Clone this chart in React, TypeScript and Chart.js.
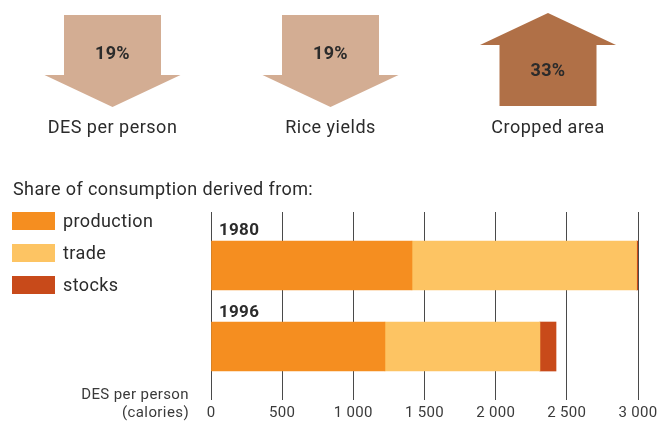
import React, { useEffect, useRef } from 'react';
import { Chart, registerables } from 'chart.js';

Chart.register(...registerables);

// ---- data ----
const years = ['1980', '1996'];
const production = [1412, 1222];
const trade = [1578, 1089];
const stocks = [10, 113];
const seriesNames = ['production', 'trade', 'stocks'];
const seriesColors = ['#f58e20', '#fdc463', '#c84a1a'];
const xTicks = [0, 500, 1000, 1500, 2000, 2500, 3000];
const changeLabels = ['DES per person', 'Rice yields', 'Cropped area'];
const changeValues = [-19, -19, 33];
const legendTitle = 'Share of consumption derived from:';
const axisTitle = ['DES per person', '(calories)'];

// ---- style ----
const FONT = 'Roboto, "Noto Sans", sans-serif';
const TEXT = '#2b2b2b';
const DOWN_COLOR = '#d3ad93';
const UP_COLOR = '#b07047';
const ARROW_CENTERS = [112.5, 330.5, 548];

const fmt = (v: number) => {
  const s = String(Math.round(v));
  return s.replace(/\B(?=(\d{3})+(?!\d))/g, ' ');
};

const spacingPlugin = {
  id: 'spacing',
  beforeDraw(chart: any) {
    (chart.ctx as any).letterSpacing = '0.3px';
  },
};

const decorPlugin = {
  id: 'decor',
  afterDatasetsDraw(chart: any) {
    const ctx = chart.ctx as any;
    ctx.save();
    // change arrows
    changeValues.forEach((v, i) => {
      const cx = ARROW_CENTERS[i];
      const sh = 48.5;
      const hh = 68;
      ctx.beginPath();
      if (v < 0) {
        ctx.moveTo(cx - sh, 15);
        ctx.lineTo(cx + sh, 15);
        ctx.lineTo(cx + sh, 75);
        ctx.lineTo(cx + hh, 75);
        ctx.lineTo(cx, 107);
        ctx.lineTo(cx - hh, 75);
        ctx.lineTo(cx - sh, 75);
        ctx.fillStyle = DOWN_COLOR;
      } else {
        ctx.moveTo(cx, 13);
        ctx.lineTo(cx + hh, 45);
        ctx.lineTo(cx + sh, 45);
        ctx.lineTo(cx + sh, 106);
        ctx.lineTo(cx - sh, 106);
        ctx.lineTo(cx - sh, 45);
        ctx.lineTo(cx - hh, 45);
        ctx.fillStyle = UP_COLOR;
      }
      ctx.closePath();
      ctx.fill();
      ctx.fillStyle = TEXT;
      ctx.textAlign = 'center';
      ctx.textBaseline = 'alphabetic';
      ctx.letterSpacing = '0.4px';
      ctx.font = `bold 18px ${FONT}`;
      ctx.fillText(`${Math.abs(v)}%`, cx, v < 0 ? 58.5 : 76);
      ctx.letterSpacing = '0.5px';
      ctx.font = `18px ${FONT}`;
      ctx.fillText(changeLabels[i], cx, 132.5);
    });

    // legend
    ctx.textAlign = 'left';
    ctx.textBaseline = 'alphabetic';
    ctx.letterSpacing = '0.4px';
    ctx.font = `18px ${FONT}`;
    ctx.fillStyle = TEXT;
    ctx.fillText(legendTitle, 13, 195);
    seriesNames.forEach((name, i) => {
      ctx.fillStyle = seriesColors[i];
      ctx.fillRect(12, 212 + 32 * i, 43, 18);
      ctx.fillStyle = TEXT;
      ctx.fillText(name, 63, 226.5 + 32 * i);
    });

    // year labels above bars
    const meta = chart.getDatasetMeta(0);
    ctx.font = `bold 17px ${FONT}`;
    ctx.letterSpacing = '0.3px';
    ctx.fillStyle = TEXT;
    meta.data.forEach((el: any, i: number) => {
      const top = el.y - el.height / 2;
      ctx.fillText(years[i], chart.chartArea.left + 8, top - 5.5);
    });

    // axis title
    ctx.textAlign = 'right';
    ctx.font = `15px ${FONT}`;
    ctx.letterSpacing = '0.4px';
    ctx.fillStyle = '#3a3a3a';
    ctx.fillText(axisTitle[0], 189, 398.5);
    ctx.fillText(axisTitle[1], 189, 416.5);
    ctx.restore();
  },
};

export default function App() {
  const ref = useRef<HTMLCanvasElement>(null);
  useEffect(() => {
    if (!ref.current) return;
    const series = [production, trade, stocks];
    const chart = new Chart(ref.current, {
      type: 'bar',
      data: {
        datasets: series.map((vals, s) => ({
          label: seriesNames[s],
          data: vals.map((v, i) => ({ x: v, y: i + 1 })),
          backgroundColor: seriesColors[s],
          borderWidth: 0,
          barThickness: 49,
        })),
      },
      options: {
        indexAxis: 'y',
        responsive: false,
        animation: false,
        devicePixelRatio: 1,
        layout: { padding: { left: 211, right: 20, top: 212, bottom: 3.6 } },
        plugins: { legend: { display: false }, tooltip: { enabled: false } },
        scales: {
          x: {
            type: 'linear',
            stacked: true,
            min: xTicks[0],
            max: xTicks[xTicks.length - 1],
            afterBuildTicks: (scale: any) => {
              scale.ticks = xTicks.map((v) => ({ value: v }));
            },
            afterFit: (scale: any) => {
              scale.height = 21.4;
              scale.paddingLeft = 0;
              scale.paddingRight = 0;
            },
            grid: { color: '#4a4a4a', lineWidth: 1, drawTicks: false },
            border: { display: false },
            ticks: {
              padding: 4,
              color: '#3a3a3a',
              font: { family: FONT, size: 15 },
              callback: (v: any) => fmt(Number(v)),
            },
          },
          y: {
            type: 'linear',
            stacked: true,
            reverse: true,
            offset: false,
            min: 0.34,
            max: 2.66,
            display: false,
            grid: { offset: false },
          },
        },
      },
      plugins: [spacingPlugin, decorPlugin],
    });
    return () => chart.destroy();
  }, []);
  return (
    <div style={{ position: 'fixed', left: 0, top: 0, width: 658, height: 425, background: '#fff' }}>
      <canvas ref={ref} width={658} height={425} style={{ width: 658, height: 425, display: 'block' }} />
    </div>
  );
}
